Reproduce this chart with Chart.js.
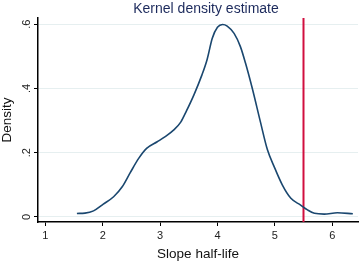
<!DOCTYPE html>
<html>
<head>
<meta charset="utf-8">
<script src="https://cdn.jsdelivr.net/npm/chart.js@4"></script>
<style>
  html, body { margin: 0; padding: 0; background: #fff; }
  #wrap { width: 360px; height: 262px; }
</style>
</head>
<body>
<div id="wrap"><canvas id="densityChart" width="360" height="262"></canvas></div>
<script>
// kernel density curve
const halfLife = [1.55, 1.69, 1.84, 2.01, 2.19, 2.34, 2.48, 2.63, 2.77, 2.95, 3.09, 3.24,
  3.36, 3.46, 3.59, 3.73, 3.82, 3.91, 4.0, 4.09, 4.17, 4.29, 4.40, 4.49,
  4.61, 4.75, 4.87, 4.99, 5.13, 5.28, 5.45, 5.57, 5.69, 5.86, 6.09, 6.36];
const density = [0.011, 0.012, 0.019, 0.040, 0.063, 0.094, 0.138, 0.183, 0.214, 0.234, 0.250, 0.271,
  0.295, 0.330, 0.380, 0.442, 0.490, 0.556, 0.590, 0.599, 0.594, 0.571, 0.530, 0.478,
  0.398, 0.295, 0.210, 0.156, 0.100, 0.058, 0.037, 0.022, 0.0115, 0.009, 0.013, 0.010];

const cutoff = 5.5;
const xTicks = [1, 2, 3, 4, 5, 6];
const yTicks = [0, 0.2, 0.4, 0.6];
const yLabels = ["0", ".2", ".4", ".6"];

const FONT = "'Liberation Sans', Arial, Helvetica, sans-serif";
const yMin = -0.0156, yMax = 0.619;

const curve = halfLife.map((x, i) => ({ x: x, y: density[i] }));

// title + rotated y tick labels
const extras = {
  id: 'extras',
  afterDraw(chart) {
    const ctx = chart.ctx;
    const y = chart.scales.y;
    ctx.save();
    ctx.fillStyle = '#1c2a5c';
    ctx.font = '14px ' + FONT;
    ctx.textAlign = 'center';
    ctx.textBaseline = 'middle';
    ctx.fillText('Kernel density estimate', 206, 9);

    ctx.fillStyle = '#222';
    ctx.font = '11px ' + FONT;
    yTicks.forEach((v, i) => {
      ctx.save();
      ctx.translate(27, y.getPixelForValue(v));
      ctx.rotate(-Math.PI / 2);
      ctx.fillText(yLabels[i], 0, 0);
      ctx.restore();
    });
    ctx.restore();
  }
};

new Chart(document.getElementById('densityChart'), {
  type: 'scatter',
  data: {
    datasets: [
      {
        data: curve,
        showLine: true,
        borderColor: '#1a476f',
        borderWidth: 1.6,
        pointRadius: 0,
        tension: 0.4,
        cubicInterpolationMode: 'monotone'
      },
      {
        data: [{ x: cutoff, y: yMin }, { x: cutoff, y: yMax }],
        showLine: true,
        borderColor: '#d10f3f',
        borderWidth: 2,
        pointRadius: 0
      }
    ]
  },
  options: {
    responsive: false,
    animation: false,
    layout: { padding: { top: 18, right: 2, left: 0, bottom: 0 } },
    plugins: {
      legend: { display: false },
      tooltip: { enabled: false }
    },
    scales: {
      x: {
        type: 'linear',
        min: 0.872,
        max: 6.45,
        afterBuildTicks: s => { s.ticks = xTicks.map(v => ({ value: v })); },
        afterFit: s => { s.height = 40; },
        border: { color: '#000', width: 1.5 },
        grid: { drawOnChartArea: false, drawTicks: true, tickLength: 4, tickColor: '#000', tickWidth: 1 },
        ticks: { color: '#222', font: { family: FONT, size: 11 }, padding: 3, maxRotation: 0 },
        title: {
          display: true,
          text: 'Slope half-life',
          color: '#111',
          font: { family: FONT, size: 13.5, lineHeight: 1.2 },
          padding: 0
        }
      },
      y: {
        min: yMin,
        max: yMax,
        afterBuildTicks: s => { s.ticks = yTicks.map(v => ({ value: v })); },
        afterFit: s => { s.width = 38; },
        border: { color: '#000', width: 1.5 },
        grid: { color: '#e6eff0', lineWidth: 1, drawTicks: true, tickLength: 4, tickColor: '#000', tickWidth: 1 },
        ticks: { display: false },
        title: {
          display: true,
          text: 'Density',
          color: '#111',
          font: { family: FONT, size: 13.5, lineHeight: 1.1 },
          padding: 0
        }
      }
    }
  },
  plugins: [extras]
});
</script>
</body>
</html>
